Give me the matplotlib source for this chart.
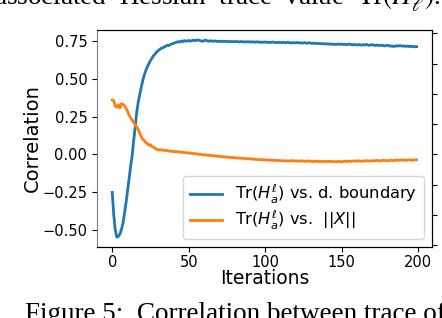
import numpy as np
import matplotlib
matplotlib.use("Agg")
import matplotlib.pyplot as plt

# correlation values, one per iteration (0..199)
corr_boundary = [
    -0.25, -0.40, -0.50, -0.545, -0.54, -0.525, -0.495, -0.455, -0.39, -0.32,
    -0.24, -0.16, -0.08, -0.01, 0.09, 0.18, 0.28, 0.345, 0.395, 0.445,
    0.49, 0.525, 0.555, 0.58, 0.60, 0.62, 0.635, 0.652, 0.662, 0.676,
    0.684, 0.692, 0.70, 0.703, 0.709, 0.714, 0.72, 0.718, 0.726, 0.729,
    0.733, 0.736, 0.74, 0.744, 0.741, 0.748, 0.744, 0.751, 0.746, 0.749,
    0.752, 0.748, 0.750, 0.754, 0.750, 0.753, 0.756, 0.752, 0.749, 0.746,
    0.751, 0.754, 0.750, 0.747, 0.750, 0.748, 0.746, 0.749, 0.747, 0.745,
    0.748, 0.746, 0.744, 0.747, 0.745, 0.746, 0.743, 0.746, 0.744, 0.745,
    0.743, 0.746, 0.744, 0.742, 0.745, 0.743, 0.744, 0.741, 0.744, 0.742,
    0.743, 0.741, 0.744, 0.740, 0.742, 0.743, 0.740, 0.742, 0.739, 0.741,
    0.742, 0.739, 0.741, 0.738, 0.740, 0.742, 0.739, 0.737, 0.740, 0.738,
    0.739, 0.737, 0.740, 0.736, 0.738, 0.740, 0.737, 0.735, 0.738, 0.736,
    0.737, 0.739, 0.735, 0.737, 0.734, 0.736, 0.738, 0.733, 0.735, 0.737,
    0.733, 0.735, 0.732, 0.734, 0.731, 0.733, 0.730, 0.732, 0.729, 0.731,
    0.728, 0.730, 0.727, 0.729, 0.726, 0.728, 0.725, 0.727, 0.729, 0.726,
    0.728, 0.725, 0.727, 0.724, 0.726, 0.728, 0.725, 0.723, 0.726, 0.724,
    0.722, 0.725, 0.723, 0.721, 0.724, 0.722, 0.726, 0.723, 0.720, 0.722,
    0.724, 0.721, 0.719, 0.722, 0.720, 0.718, 0.721, 0.719, 0.716, 0.718,
    0.720, 0.717, 0.714, 0.716, 0.712, 0.714, 0.717, 0.715, 0.718, 0.716,
    0.714, 0.716, 0.713, 0.715, 0.712, 0.714, 0.711, 0.713, 0.710, 0.711,
]

corr_norm = [
    0.36, 0.355, 0.318, 0.312, 0.328, 0.306, 0.335, 0.332, 0.322, 0.305,
    0.285, 0.26, 0.242, 0.228, 0.21, 0.195, 0.182, 0.165, 0.14, 0.118,
    0.098, 0.092, 0.078, 0.072, 0.061, 0.064, 0.052, 0.047, 0.041, 0.034,
    0.029, 0.033, 0.030, 0.027, 0.029, 0.025, 0.027, 0.022, 0.024, 0.020,
    0.021, 0.018, 0.020, 0.016, 0.017, 0.014, 0.016, 0.012, 0.013, 0.010,
    0.011, 0.008, 0.009, 0.005, 0.007, 0.003, 0.004, 0.000, 0.002, -0.002,
    -0.004, -0.001, -0.006, -0.004, -0.008, -0.006, -0.010, -0.008, -0.012, -0.010,
    -0.014, -0.012, -0.016, -0.014, -0.018, -0.016, -0.020, -0.018, -0.021, -0.019,
    -0.023, -0.021, -0.024, -0.022, -0.026, -0.024, -0.027, -0.025, -0.029, -0.027,
    -0.030, -0.028, -0.032, -0.030, -0.033, -0.031, -0.035, -0.032, -0.036, -0.034,
    -0.037, -0.035, -0.038, -0.036, -0.039, -0.037, -0.040, -0.038, -0.041, -0.039,
    -0.042, -0.040, -0.041, -0.043, -0.041, -0.044, -0.042, -0.040, -0.043, -0.041,
    -0.044, -0.042, -0.045, -0.043, -0.041, -0.044, -0.046, -0.043, -0.045, -0.042,
    -0.045, -0.047, -0.044, -0.046, -0.043, -0.047, -0.045, -0.048, -0.044, -0.046,
    -0.048, -0.045, -0.047, -0.044, -0.046, -0.049, -0.046, -0.048, -0.045, -0.047,
    -0.049, -0.046, -0.044, -0.047, -0.045, -0.043, -0.046, -0.044, -0.042, -0.045,
    -0.043, -0.041, -0.044, -0.042, -0.045, -0.043, -0.040, -0.042, -0.044, -0.041,
    -0.043, -0.040, -0.042, -0.039, -0.041, -0.043, -0.040, -0.038, -0.041, -0.039,
    -0.042, -0.040, -0.037, -0.039, -0.041, -0.038, -0.036, -0.039, -0.037, -0.035,
    -0.038, -0.036, -0.039, -0.037, -0.034, -0.036, -0.038, -0.035, -0.037, -0.035,
]

iterations = np.arange(len(corr_boundary))

label_boundary = r'Tr($H_a^\ell$) vs. d. boundary'
label_norm = r'Tr($H_a^\ell$) vs.  $||X||$'

# justified caption line, spacing between words is wider in the paper
top_caption = r'associated  Hessian  trace  value  $\mathrm{Tr}(H_\ell^a)$.'
bottom_caption = 'Figure 5:  Correlation between trace of'

fig = plt.figure(figsize=(4.42, 3.18), dpi=100)
ax = fig.add_axes([0.2195, 0.2233, 0.7575, 0.6824])

ax.plot(iterations, corr_boundary, color='#1f77b4', lw=2, label=label_boundary)
ax.plot(iterations, corr_norm, color='#ff7f0e', lw=2, label=label_norm)

ax.set_xticks([0, 50, 100, 150, 200])
ax.set_yticks([-0.5, -0.25, 0.0, 0.25, 0.5, 0.75])
ax.tick_params(labelsize=10.5)
ax.tick_params(axis='x', pad=2.5)
ax.set_xlabel('Iterations', fontsize=13.5, labelpad=-1)
ax.set_ylabel('Correlation', fontsize=14, labelpad=0)
ax.spines['left'].set_color('0.5')

# second y axis on the right, labels fall outside the crop
ax2 = ax.twinx()
ax2.set_ylim(-0.056, 7.108)
ax2.set_yticks(range(8))
ax2.tick_params(labelright=False)
ax2.spines['left'].set_visible(False)

ax.legend(loc='lower right', fontsize=11.7, handlelength=2.0, labelspacing=0.2)

fig.text(0.998, 1 - 5 / 318, top_caption, ha='right', va='baseline',
         family='Liberation Serif', math_fontfamily='stix', fontsize=19.5)
fig.text(25 / 442, -0.0094, bottom_caption, ha='left', va='baseline',
         family='Liberation Serif', fontsize=19.5)

fig.savefig('out.png', dpi=100)
